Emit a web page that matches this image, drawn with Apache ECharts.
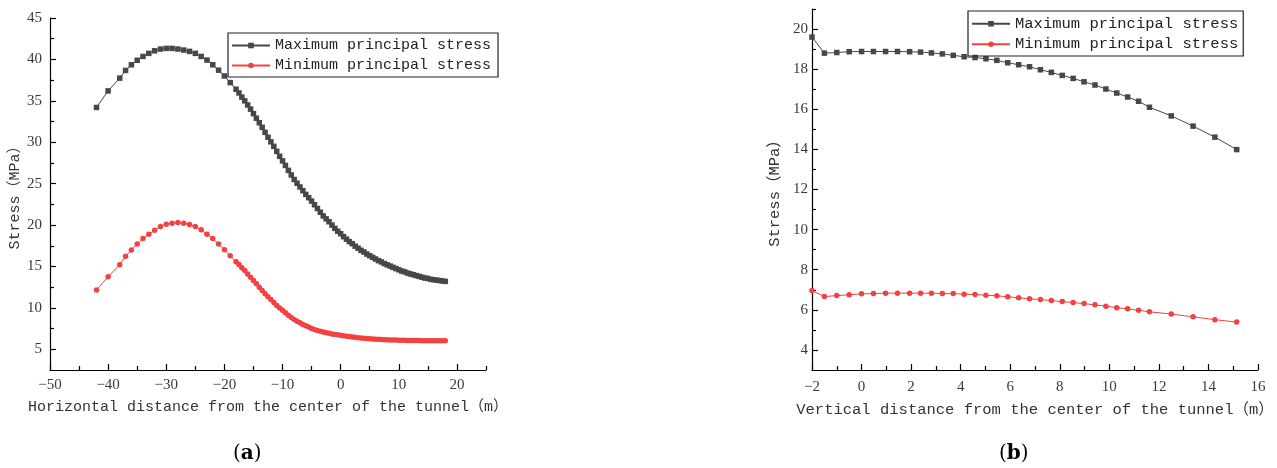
<!DOCTYPE html>
<html>
<head>
<meta charset="utf-8">
<title>Principal stress</title>
<script src="https://cdn.jsdelivr.net/npm/echarts@6/dist/echarts.min.js"></script>
<style>
  html, body { margin: 0; padding: 0; background: #fff; }
  #chart { width: 1277px; height: 468px; }
</style>
</head>
<body>
<div id="chart"></div>
<script>
// (a) horizontal distance from the tunnel center
const leftX = [
  -42, -40, -38, -37, -36, -35, -34, -33, -32, -31, -30, -29, -28, -27, -26, -25, -24, -23, -22, -21, -20, -19, -18,
  -17.5, -17, -16.5, -16, -15.5, -15, -14.5, -14, -13.5, -13, -12.5, -12, -11.5, -11, -10.5, -10,
  -9.5, -9, -8.5, -8, -7.5, -7, -6.5, -6, -5.5, -5, -4.5, -4, -3.5, -3, -2.5, -2, -1.5, -1, -0.5, 0,
  0.5, 1, 1.5, 2, 2.5, 3, 3.5, 4, 4.5, 5, 5.5, 6, 6.5, 7, 7.5, 8, 8.5, 9, 9.5, 10,
  10.5, 11, 11.5, 12, 12.5, 13, 13.5, 14, 14.5, 15, 15.5, 16, 16.5, 17, 17.5, 18
];
const leftMax = [
  34.2, 36.2, 37.74, 38.67, 39.35, 39.9, 40.36, 40.73, 41.04, 41.25, 41.33, 41.33, 41.25, 41.13, 40.97, 40.73, 40.36, 39.92, 39.35, 38.7, 38.0, 37.2, 36.4,
  35.95, 35.45, 35.0, 34.5, 34.0, 33.45, 32.9, 32.35, 31.8, 31.2, 30.6, 30.05, 29.5, 28.9, 28.3, 27.75,
  27.2, 26.6, 26.05, 25.5, 25.05, 24.6, 24.15, 23.7, 23.3, 22.9, 22.45, 22.0, 21.55, 21.1, 20.75, 20.4, 20.0, 19.6, 19.25, 18.95,
  18.6, 18.3, 18.0, 17.75, 17.45, 17.2, 16.95, 16.75, 16.5, 16.3, 16.1, 15.9, 15.7, 15.55, 15.35, 15.2, 15.05, 14.9, 14.75, 14.6,
  14.45, 14.35, 14.2, 14.1, 14.0, 13.9, 13.8, 13.7, 13.6, 13.55, 13.45, 13.4, 13.35, 13.3, 13.25, 13.2
];
const leftMin = [
  12.15, 13.77, 15.22, 16.23, 17.0, 17.72, 18.37, 18.89, 19.37, 19.82, 20.1, 20.22, 20.3, 20.22, 20.06, 19.82, 19.42, 18.89, 18.37, 17.72, 17.03, 16.3, 15.58,
  15.25, 14.85, 14.5, 14.1, 13.7, 13.3, 12.9, 12.5, 12.1, 11.7, 11.35, 11.0, 10.65, 10.3, 10.0, 9.7,
  9.4, 9.1, 8.85, 8.6, 8.4, 8.2, 8.0, 7.85, 7.68, 7.52, 7.38, 7.27, 7.17, 7.08, 7.0, 6.93, 6.86, 6.8, 6.75, 6.7,
  6.64, 6.58, 6.53, 6.48, 6.44, 6.4, 6.36, 6.32, 6.29, 6.26, 6.24, 6.22, 6.2, 6.18, 6.16, 6.15, 6.13, 6.12, 6.11, 6.1,
  6.09, 6.08, 6.07, 6.07, 6.06, 6.05, 6.05, 6.04, 6.04, 6.04, 6.03, 6.03, 6.03, 6.03, 6.03, 6.03
];

// (b) vertical distance from the tunnel center
const rightX = [
  -2, -1.5, -1, -0.5, 0, 0.48, 0.97, 1.45, 1.94, 2.38, 2.82, 3.26, 3.7, 4.14, 4.58, 5.02, 5.46, 5.9,
  6.34, 6.78, 7.22, 7.66, 8.1, 8.54, 8.98, 9.42, 9.86, 10.3, 10.74, 11.18, 11.62, 12.5, 13.38, 14.26, 15.14
];
const rightMax = [
  19.6, 18.8, 18.83, 18.87, 18.88, 18.88, 18.88, 18.88, 18.87, 18.85, 18.81, 18.76, 18.69, 18.62, 18.58, 18.52, 18.44, 18.32,
  18.22, 18.12, 17.97, 17.84, 17.69, 17.54, 17.37, 17.21, 17.01, 16.81, 16.61, 16.4, 16.1, 15.67, 15.16, 14.61, 13.99
];
const rightMin = [
  6.96, 6.66, 6.71, 6.75, 6.8, 6.81, 6.83, 6.83, 6.83, 6.83, 6.83, 6.81, 6.81, 6.78, 6.76, 6.73, 6.7, 6.65,
  6.6, 6.55, 6.51, 6.46, 6.41, 6.36, 6.31, 6.25, 6.18, 6.11, 6.05, 5.98, 5.9, 5.79, 5.65, 5.51, 5.39
];

// tick positions
const leftXTicks = [-50, -40, -30, -20, -10, 0, 10, 20];
const leftXMinor = [-45, -35, -25, -15, -5, 5, 15, 25];
const leftYTicks = [5, 10, 15, 20, 25, 30, 35, 40, 45];
const leftYMinor = [7.5, 12.5, 17.5, 22.5, 27.5, 32.5, 37.5, 42.5];
const rightXTicks = [-2, 0, 2, 4, 6, 8, 10, 12, 14, 16];
const rightXMinor = [-1, 1, 3, 5, 7, 9, 11, 13, 15];
const rightYTicks = [4, 6, 8, 10, 12, 14, 16, 18, 20];
const rightYMinor = [5, 7, 9, 11, 13, 15, 17, 19, 21];

const seriesNames = ['Maximum principal stress', 'Minimum principal stress'];

const BLACK = '#474747';
const RED = '#f24141';
const MONO = '"Liberation Mono", "Noto Sans CJK SC", monospace';
const SERIF = '"Liberation Serif", serif';

const chart = echarts.init(document.getElementById('chart'), null, { renderer: 'canvas' });

function tickLabel(v) {
  return String(v).replace('-', '\u2212');
}

function mainAxis(grid, pos, min, max, ticks, margin, opts) {
  return Object.assign({
    type: 'value',
    gridIndex: grid,
    position: pos,
    min: min,
    max: max,
    splitLine: { show: false },
    axisLine: { show: true, onZero: false, lineStyle: { color: '#000', width: 1.2 } },
    axisTick: { show: true, inside: true, length: 6, customValues: ticks, lineStyle: { color: '#000', width: 1.2 } },
    axisLabel: {
      customValues: ticks, color: '#3a3a3a', fontFamily: SERIF, fontSize: 15, margin: margin,
      formatter: tickLabel
    },
    nameLocation: 'middle',
    nameTextStyle: { fontFamily: MONO, fontSize: 15, color: '#333' }
  }, opts);
}

function minorAxis(grid, pos, min, max, ticks) {
  return {
    type: 'value',
    gridIndex: grid,
    position: pos,
    min: min,
    max: max,
    splitLine: { show: false },
    axisLine: { show: false, onZero: false },
    axisTick: { show: true, inside: true, length: 4, customValues: ticks, lineStyle: { color: '#000', width: 1.2 } },
    axisLabel: { show: false }
  };
}

function lineSeries(name, xs, ys, xi, yi, symbol, color) {
  return {
    name: name,
    type: 'line',
    xAxisIndex: xi,
    yAxisIndex: yi,
    data: xs.map((x, i) => [x, ys[i]]),
    symbol: symbol,
    symbolSize: 5.5,
    showAllSymbol: true,
    animation: false,
    itemStyle: { color: color },
    lineStyle: { color: color, width: 1 }
  };
}

const legendBase = {
  orient: 'vertical',
  data: seriesNames,
  itemWidth: 38,
  itemHeight: 7,
  itemGap: 5,
  itemTextGap: 9,
  borderColor: '#222',
  borderWidth: 1.2,
  borderRadius: 0,
  selectedMode: false
};

const option = {
  backgroundColor: '#fff',
  animation: false,
  grid: [
    { left: 50, top: 18, width: 436, height: 352, outerBoundsMode: 'none' },
    { left: 812, top: 9, width: 446, height: 361, outerBoundsMode: 'none' }
  ],
  xAxis: [
    mainAxis(0, 'bottom', -50, 25, leftXTicks, 8, {
      name: 'Horizontal distance from the center of the tunnel（m）',
      nameGap: 30
    }),
    minorAxis(0, 'bottom', -50, 25, leftXMinor),
    mainAxis(1, 'bottom', -2, 16, rightXTicks, 10, {
      name: 'Vertical distance from the center of the tunnel（m）',
      nameGap: 32,
      nameTextStyle: { fontFamily: MONO, fontSize: 15.5, color: '#333' }
    }),
    minorAxis(1, 'bottom', -2, 16, rightXMinor)
  ],
  yAxis: [
    mainAxis(0, 'left', 2.5, 45, leftYTicks, 8, {
      name: 'Stress（MPa）',
      nameGap: 27
    }),
    minorAxis(0, 'left', 2.5, 45, leftYMinor),
    mainAxis(1, 'left', 3, 21, rightYTicks, 4, {
      name: 'Stress（MPa）',
      nameGap: 29,
      nameTextStyle: { fontFamily: MONO, fontSize: 15.5, color: '#333' }
    }),
    minorAxis(1, 'left', 3, 21, rightYMinor)
  ],
  legend: [
    Object.assign({}, legendBase, {
      left: 228, top: 33,
      padding: [5, 7, 4, 3],
      textStyle: { fontFamily: MONO, fontSize: 15, color: '#222' }
    }),
    Object.assign({}, legendBase, {
      left: 968, top: 11,
      padding: [5, 5, 4, 3],
      textStyle: { fontFamily: MONO, fontSize: 15.5, color: '#222' }
    })
  ],
  series: [
    lineSeries(seriesNames[0], leftX, leftMax, 0, 0, 'rect', BLACK),
    lineSeries(seriesNames[1], leftX, leftMin, 0, 0, 'circle', RED),
    lineSeries(seriesNames[0], rightX, rightMax, 2, 2, 'rect', BLACK),
    lineSeries(seriesNames[1], rightX, rightMin, 2, 2, 'circle', RED)
  ],
  graphic: [
    {
      type: 'text', left: 233, top: 444,
      style: {
        text: '{p|(}{b|a}{p|)}',
        rich: {
          p: { fontFamily: '"DejaVu Serif", serif', fontSize: 20, fill: '#000' },
          b: { fontFamily: '"DejaVu Serif", serif', fontSize: 20, fontWeight: 'bold', fill: '#000' }
        }
      }
    },
    {
      type: 'text', left: 999, top: 444,
      style: {
        text: '{p|(}{b|b}{p|)}',
        rich: {
          p: { fontFamily: '"DejaVu Serif", serif', fontSize: 20, fill: '#000' },
          b: { fontFamily: '"DejaVu Serif", serif', fontSize: 20, fontWeight: 'bold', fill: '#000' }
        }
      }
    }
  ]
};

chart.setOption(option);
</script>
</body>
</html>
